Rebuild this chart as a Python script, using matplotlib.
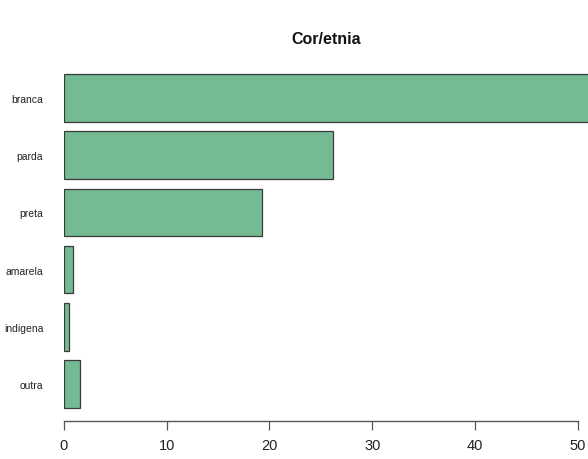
import matplotlib
matplotlib.use("Agg")
import matplotlib.pyplot as plt
import numpy as np

plt.rcParams['font.family'] = ['Liberation Sans', 'DejaVu Sans']

categories = ["branca", "parda", "preta", "amarela", "indigena", "outra"]
values = [52.5, 26.2, 19.3, 0.9, 0.45, 1.6]
xticks = [0, 10, 20, 30, 40, 50]

fig = plt.figure(figsize=(5.88, 4.6), dpi=100)
ax = fig.add_axes([64 / 588, 38 / 460, 1 - 64 / 588, (422 - 51) / 460])

# R barplot layout: width 1, space 0.2, first category on top
n = len(categories)
ypos = np.array([0.7 + 1.2 * (n - 1 - i) for i in range(n)])
ax.barh(ypos, values, height=1.0, color="#74bb93", edgecolor="#3a3a3a", linewidth=0.9)

ax.set_xlim(0, 51.0)
ax.set_ylim(-0.076, 7.707)

ax.set_yticks(ypos)
ax.set_yticklabels(categories, fontsize=7.5, color="#222222")
ax.tick_params(axis="y", length=0, pad=15)

ax.set_xticks(xticks)
ax.set_xticklabels([str(t) for t in xticks], fontsize=10.5, color="#222222")
ax.tick_params(axis="x", length=6.5, width=0.9, color="#555555", pad=6)

for s in ["top", "right", "left"]:
    ax.spines[s].set_visible(False)
ax.spines["bottom"].set_bounds(0, 50)
ax.spines["bottom"].set_color("#555555")
ax.spines["bottom"].set_linewidth(1.0)

fig.text(326 / 588, 1 - 40 / 460, "Cor/etnia", ha="center", va="center",
         fontsize=11.5, fontweight="bold", color="#111111")

fig.savefig("out.png", dpi=100)
